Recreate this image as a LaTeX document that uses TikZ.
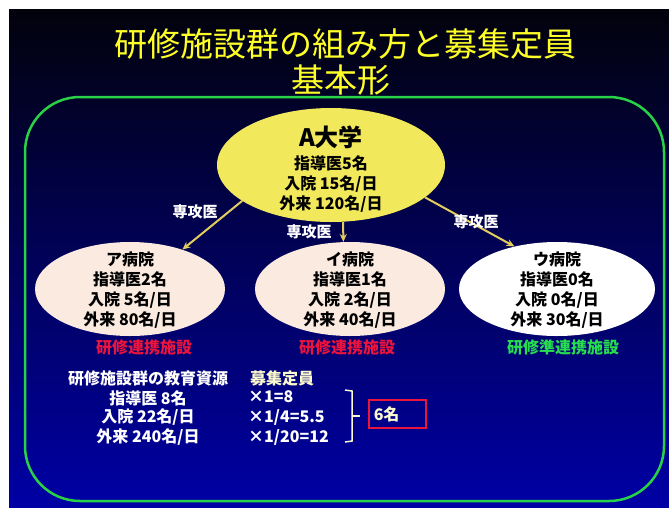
\documentclass[tikz,border=0pt]{standalone}
\usepackage{fontspec}
\setmainfont{Noto Sans CJK JP}
\usetikzlibrary{positioning, shapes.geometric, arrows.meta}

\definecolor{titleyellow}{RGB}{255,255,40}
\definecolor{univfill}{RGB}{242,232,92}
\definecolor{hospfill}{RGB}{250,234,224}
\definecolor{arrowtan}{RGB}{228,205,95}
\definecolor{frameg}{RGB}{40,210,70}
\definecolor{linkred}{RGB}{235,20,60}
\definecolor{linkgreen}{RGB}{40,220,80}
\definecolor{bgtop}{RGB}{2,2,12}
\definecolor{bgmid}{RGB}{0,0,112}
\definecolor{bgbot}{RGB}{0,0,165}
\definecolor{cream}{RGB}{250,248,205}

\begin{document}
\begin{tikzpicture}[
        x=1pt, y=-1pt,
        every node/.style={font=\bfseries\fontsize{16}{20}\selectfont, align=center, inner sep=0pt},
        oval/.style={ellipse, draw=none, minimum width=190pt, minimum height=94pt},
        arrow/.style={-{Stealth[length=8pt, width=7pt]}, line width=2pt, draw=arrowtan},
        tag/.style={text=white, font=\bfseries\fontsize{15}{18}\selectfont},
        headline/.style={text=titleyellow, font=\fontsize{33}{36}\selectfont}
      ]

    \fill[white] (0,0) rectangle (669,507);
    \shade[top color=bgtop, middle color=bgmid, bottom color=bgbot] (9,9) rectangle (669,507);
    \useasboundingbox (0,0) rectangle (669,507);
    \draw[frameg, line width=2.5pt, rounded corners=55pt] (25,97) rectangle (664,501);

    \node[headline] (title) at (345,44) {研修施設群の組み方と募集定員};
    \node[headline] (subtitle) at (341,80) {基本形};

    \node[oval, fill=univfill, minimum width=228pt, minimum height=114pt] (univ) at (331,165) {};
    \node (univtext) at (331,169) {{\fontsize{24}{26}\selectfont A大学}\\[3pt]指導医5名\\入院 15名/日\\外来 120名/日};

    \node[oval, fill=hospfill] (hospA) at (130,289) {};
    \node[oval, fill=hospfill] (hospB) at (350,289) {};
    \node[oval, fill=white, minimum width=196pt] (hospC) at (557,289) {};
    \node (hospAtext) at (130,290) {ア病院\\指導医2名\\入院 5名/日\\外来 80名/日};
    \node (hospBtext) at (350,290) {イ病院\\指導医1名\\入院 2名/日\\外来 40名/日};
    \node (hospCtext) at (557,290) {ウ病院\\指導医0名\\入院 0名/日\\外来 30名/日};

    \node[text=linkred] (statA) at (144,347) {研修連携施設};
    \node[text=linkred] (statB) at (347,347) {研修連携施設};
    \node[text=linkgreen] (statC) at (563,347) {研修準連携施設};

    \draw[arrow] (univ.202) -- (hospA.37);
    \draw[arrow] (univ.282) -- (hospB.98);
    \draw[arrow] (univ.341) -- (hospC.135);

    \node[tag] (tagA) at (195,212) {専攻医};
    \node[tag] (tagB) at (309,232) {専攻医};
    \node[tag] (tagC) at (476,222) {専攻医};

    \node[text=white, anchor=west] (reshead) at (68,378) {研修施設群の教育資源};
    \node[text=cream, anchor=west] (quotahead) at (250,378) {募集定員};
    \node[text=white] (resA) at (148,398) {指導医 8名};
    \node[text=white] (resB) at (148,417) {入院 22名/日};
    \node[text=white] (resC) at (148,437) {外来 240名/日};
    \node[text=white, anchor=west] (mulA) at (248,397) {×1=8};
    \node[text=white, anchor=west] (mulB) at (248,417) {×1/4=5.5};
    \node[text=white, anchor=west] (mulC) at (248,437) {×1/20=12};

    \draw[cream, line width=1.5pt] (345,390) -- (352,391) -- (352,441) -- (345,442);
    \draw[cream, line width=1.5pt] (352,416) -- (360,416);
    \node[draw=linkred, line width=1.5pt, text=cream, anchor=west, align=left,
          text width=47pt, inner xsep=5pt, minimum height=28pt] (quota) at (368,414) {6名};

    \end{tikzpicture}
\end{document}
